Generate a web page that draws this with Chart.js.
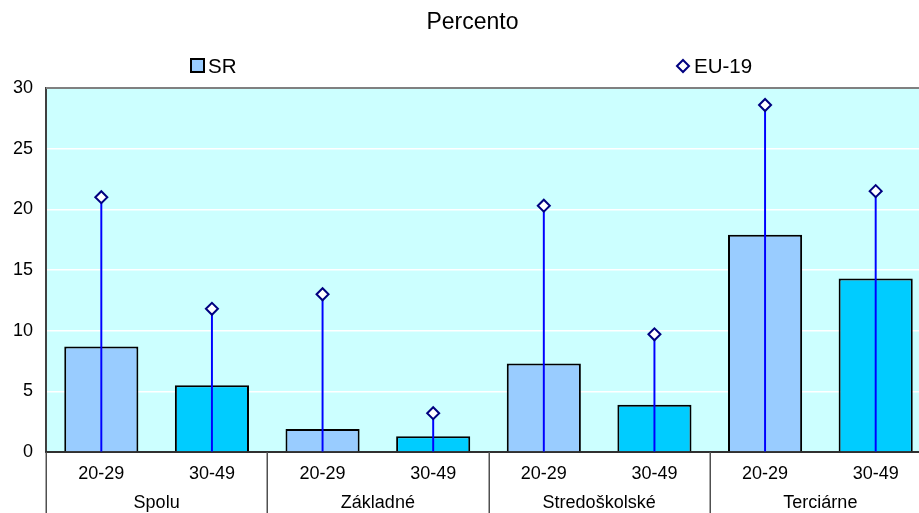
<!DOCTYPE html>
<html>
<head>
<meta charset="utf-8">
<script src="https://cdn.jsdelivr.net/npm/chart.js@4/dist/chart.umd.min.js"></script>
<style>
  html, body { margin: 0; padding: 0; background: #ffffff; overflow: hidden; }
  /* the plot runs on a little past the right edge of the view */
  #wrap { width: 919px; height: 513px; overflow: hidden; }
  #chart { display: block; }
</style>
</head>
<body>
<div id="wrap"><canvas id="chart" width="931" height="513"></canvas></div>
<script>
// Education groups and age bands
const groups = ['Spolu', 'Základné', 'Stredoškolské', 'Terciárne'];
const ageLabels = ['20-29', '30-49', '20-29', '30-49', '20-29', '30-49', '20-29', '30-49'];

// Percent values per age band
const srValues = [8.7, 5.5, 1.9, 1.3, 7.3, 3.9, 17.9, 14.3];
const euValues = [21.0, 11.8, 13.0, 3.2, 20.3, 9.7, 28.6, 21.5];

// Y axis ticks
const yTicks = [0, 5, 10, 15, 20, 25, 30];

const titleText = 'Percento';
const srName = 'SR';
const euName = 'EU-19';

const FONT = '"Liberation Sans", Arial, sans-serif';
const barColors = ['#99CCFF', '#00CCFF'];

// Plot background, top border, group separators, title and legend
const decorPlugin = {
  id: 'decor',
  beforeDraw(chart) {
    const { ctx, chartArea: a } = chart;
    ctx.save();
    ctx.fillStyle = '#CCFFFF';
    ctx.fillRect(a.left, a.top, a.right - a.left, a.bottom - a.top);
    ctx.restore();
  },
  afterDraw(chart) {
    const { ctx, chartArea: a } = chart;
    const x = chart.scales.x;
    ctx.save();
    // top border of the plot
    ctx.strokeStyle = '#808080';
    ctx.lineWidth = 2;
    ctx.beginPath();
    ctx.moveTo(a.left, a.top);
    ctx.lineTo(a.right, a.top);
    ctx.stroke();

    // separators between the education groups
    ctx.strokeStyle = '#505050';
    ctx.lineWidth = 1.5;
    const bottom = chart.height;
    const seps = [a.left];
    for (let i = 2; i < ageLabels.length; i += 2) {
      seps.push((x.getPixelForTick(i - 1) + x.getPixelForTick(i)) / 2);
    }
    seps.forEach(px => {
      const xx = Math.round(px) + 0.25;
      ctx.beginPath();
      ctx.moveTo(xx, a.bottom);
      ctx.lineTo(xx, bottom);
      ctx.stroke();
    });

    // title
    ctx.fillStyle = '#000000';
    ctx.font = '23px ' + FONT;
    ctx.textAlign = 'center';
    ctx.textBaseline = 'alphabetic';
    ctx.fillText(titleText, 472.5, 29);

    // legend: SR box
    ctx.font = '20.5px ' + FONT;
    ctx.textAlign = 'left';
    ctx.fillStyle = barColors[0];
    ctx.fillRect(191, 59, 13, 13);
    ctx.strokeStyle = '#000000';
    ctx.lineWidth = 2;
    ctx.strokeRect(191, 59, 13, 13);
    ctx.fillStyle = '#000000';
    ctx.fillText(srName, 208, 73);

    // legend: EU-19 diamond
    ctx.fillStyle = '#FFFFFF';
    ctx.strokeStyle = '#000080';
    ctx.lineWidth = 2;
    ctx.beginPath();
    ctx.moveTo(677, 66);
    ctx.lineTo(683, 60);
    ctx.lineTo(689, 66);
    ctx.lineTo(683, 72);
    ctx.closePath();
    ctx.fill();
    ctx.stroke();
    ctx.fillStyle = '#000000';
    ctx.fillText(euName, 694, 73);
    ctx.restore();
  }
};

// keep the category axes flush with the plot edges
function noSidePadding(scale) {
  scale.paddingLeft = 0;
  scale.paddingRight = 0;
}

new Chart(document.getElementById('chart'), {
  type: 'bar',
  data: {
    labels: ageLabels,
    datasets: [
      {
        label: euName,
        type: 'line',
        data: euValues,
        showLine: false,
        clip: false,
        pointStyle: 'rectRot',
        pointRadius: 6,
        pointHoverRadius: 6,
        pointBackgroundColor: '#FFFFFF',
        pointBorderColor: '#000080',
        pointBorderWidth: 2,
        order: 0
      },
      {
        label: euName + ' stem',
        data: euValues.map(v => [0, v]),
        backgroundColor: '#0000FF',
        borderWidth: 0,
        barThickness: 1.3,
        grouped: false,
        order: 1
      },
      {
        label: srName,
        data: srValues,
        backgroundColor: srValues.map((v, i) => barColors[i % 2]),
        borderColor: '#000000',
        borderWidth: 2,
        borderSkipped: 'start',
        grouped: false,
        barPercentage: 0.67,
        categoryPercentage: 1,
        order: 2
      }
    ]
  },
  options: {
    responsive: false,
    animation: false,
    devicePixelRatio: 1,
    layout: { autoPadding: false, padding: { top: 88, left: 0, right: 0, bottom: 0 } },
    plugins: {
      legend: { display: false },
      title: { display: false },
      tooltip: { enabled: false }
    },
    scales: {
      y: {
        min: 0,
        max: 30,
        afterBuildTicks(scale) {
          scale.ticks = yTicks.map(v => ({ value: v }));
        },
        afterFit(scale) { scale.width = 46; },
        border: { display: true, color: '#404040', width: 2 },
        grid: {
          drawTicks: false,
          lineWidth: 1.5,
          color: ctx => (ctx.tick && (ctx.tick.value === 0 || ctx.tick.value === 30)) ? 'rgba(0,0,0,0)' : '#FFFFFF'
        },
        ticks: {
          padding: 13,
          color: '#000000',
          font: { family: FONT, size: 18 }
        }
      },
      x: {
        type: 'category',
        position: 'bottom',
        weight: 0,
        offset: true,
        afterFit(scale) { scale.height = 34; noSidePadding(scale); },
        border: { display: true, color: '#303030', width: 2 },
        grid: { display: false, drawTicks: false },
        ticks: {
          padding: 11,
          maxRotation: 0,
          autoSkip: false,
          color: '#000000',
          font: { family: FONT, size: 18 }
        }
      },
      x2: {
        type: 'category',
        position: 'bottom',
        weight: 1,
        labels: groups,
        offset: true,
        afterFit(scale) { scale.height = 27; noSidePadding(scale); },
        border: { display: false },
        grid: { display: false, drawTicks: false },
        ticks: {
          padding: 6,
          maxRotation: 0,
          autoSkip: false,
          color: '#000000',
          font: { family: FONT, size: 18 }
        }
      }
    }
  },
  plugins: [decorPlugin]
});
</script>
</body>
</html>
